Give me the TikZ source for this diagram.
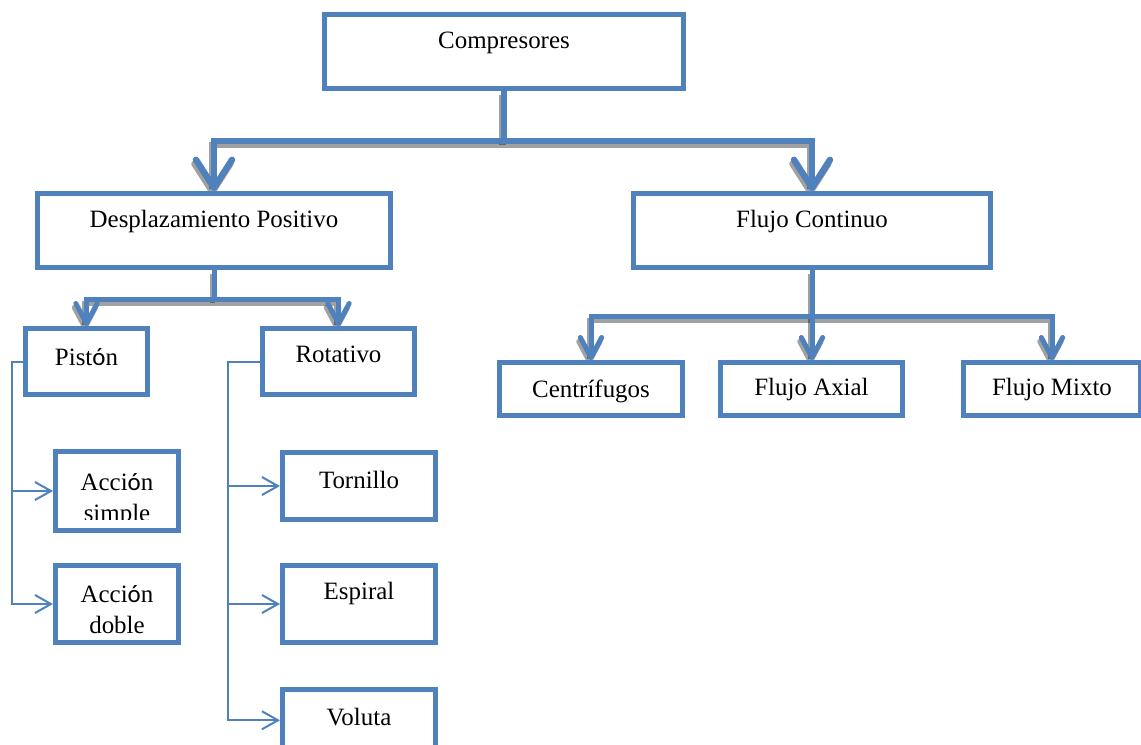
\documentclass[tikz,border=0pt]{standalone}
\usepackage{fontspec}
\setmainfont{Liberation Serif}
\newfontfamily\calib{Carlito}
\usetikzlibrary{arrows.meta}
\definecolor{myblue}{RGB}{79,129,189}
\pgfdeclarelayer{background}
\pgfsetlayers{background,main}
\begin{document}
\begin{tikzpicture}[x=0.75pt,y=-0.75pt,
 box/.style={draw=myblue,line width=3.75pt,fill=white,inner sep=0pt,anchor=base,font=\fontsize{18.7}{23.25}\selectfont},
 big/.style={draw=myblue,line width=4.8pt},
 bigtip/.style={-{Straight Barb[length=21pt,width=27pt,round]}},
 mid/.style={draw=myblue,line width=3.75pt},
 midtip/.style={-{Straight Barb[length=15pt,width=16pt,round]}},
 thinar/.style={draw=myblue,line width=1.5pt,-{Straight Barb[length=12pt,width=13.5pt]}},
 shadow/.style={draw=black,draw opacity=0.37,transform canvas={xshift=-1.2pt,yshift=-3pt}}
]
\useasboundingbox (0,0) rectangle (1141,744);

% boxes
\node[box,text height=25.13pt,text depth=30.38pt,minimum width=269.25pt] (comp) at (504,48) {Compresores};
\node[box,text height=25.13pt,text depth=30.38pt,minimum width=264.75pt] (desp) at (214,227) {Desplazamiento Positivo};
\node[box,text height=25.13pt,text depth=30.38pt,minimum width=267.75pt] (flujo) at (812,227) {Flujo Continuo};
\node[box,text height=27.38pt,text depth=22.13pt,minimum width=91.5pt] (pist) at (86.5,365) {Pist{\calib ó}n};
\node[box,text height=25.13pt,text depth=24.38pt,minimum width=114pt] (rot) at (338.5,362) {Rotativo};
\node[box,text height=25.88pt,text depth=13.88pt,minimum width=137.25pt] (cent) at (591,397) {Centrífugos};
\node[box,text height=24.38pt,text depth=15.38pt,minimum width=136.5pt] (axial) at (811.5,395) {Flujo Axial};
\node[box,text height=24.38pt,text depth=15.38pt,minimum width=132.75pt] (mixto) at (1052,395) {Flujo Mixto};
\node[box,text height=28.88pt,text depth=30.38pt,minimum width=92.25pt] (asim) at (117,490) {\begin{tabular}[t]{@{}c@{}}Acci{\calib ó}n\\simple\end{tabular}};
\node[box,text height=27.38pt,text depth=30.38pt,minimum width=92.25pt] (adob) at (117,602) {\begin{tabular}[t]{@{}c@{}}Acci{\calib ó}n\\doble\end{tabular}};
\node[box,text height=26.63pt,text depth=23.63pt,minimum width=114.75pt] (torn) at (359,488) {Tornillo};
\node[box,text height=25.13pt,text depth=32.63pt,minimum width=114.75pt] (esp) at (359,599) {Espiral};
\node[box,text height=26.63pt,text depth=19.5pt,minimum width=114.75pt] (vol) at (359,725) {Voluta};
% clipped second line of "Acción simple"
\fill[white] (58,519.5) rectangle (176,528);

% helper coordinates
\coordinate (h1) at (0,141);
\coordinate (h2) at (0,299);
\coordinate (h3) at (0,316.5);
\coordinate (pl) at (12,0);
\coordinate (rl) at (228,0);

% shadows
\begin{pgfonlayer}{background}
\draw[big,shadow] (comp.south) -- (comp.south |- h1);
\draw[big,bigtip,shadow] (comp.south |- h1) -| (desp.north);
\draw[big,bigtip,shadow] (comp.south |- h1) -| (flujo.north);
\draw[mid,shadow] (desp.south) -- (desp.south |- h2);
\draw[mid,midtip,shadow] (desp.south |- h2) -| (pist.north);
\draw[mid,midtip,shadow] (desp.south |- h2) -| (rot.north);
\draw[mid,midtip,shadow] (flujo.south) -- (flujo.south |- axial.north);
\draw[mid,midtip,shadow] (flujo.south |- h3) -| (cent.north);
\draw[mid,midtip,shadow] (flujo.south |- h3) -| (mixto.north);
\end{pgfonlayer}

% thick connectors
\draw[big] (comp.south) -- (comp.south |- h1);
\draw[big,bigtip] (comp.south |- h1) -| (desp.north);
\draw[big,bigtip] (comp.south |- h1) -| (flujo.north);
\draw[mid] (desp.south) -- (desp.south |- h2);
\draw[mid,midtip] (desp.south |- h2) -| (pist.north);
\draw[mid,midtip] (desp.south |- h2) -| (rot.north);
\draw[mid,midtip] (flujo.south) -- (flujo.south |- axial.north);
\draw[mid,midtip] (flujo.south |- h3) -| (cent.north);
\draw[mid,midtip] (flujo.south |- h3) -| (mixto.north);

% thin connectors
\draw[thinar] (pist.west) -| (pl |- adob.west) -- (adob.west);
\draw[thinar] (pl |- asim.west) -- (asim.west);
\draw[thinar] (rot.west) -| (rl |- vol.west) -- (vol.west);
\draw[thinar] (rl |- torn.west) -- (torn.west);
\draw[thinar] (rl |- esp.west) -- (esp.west);
\end{tikzpicture}
\end{document}
